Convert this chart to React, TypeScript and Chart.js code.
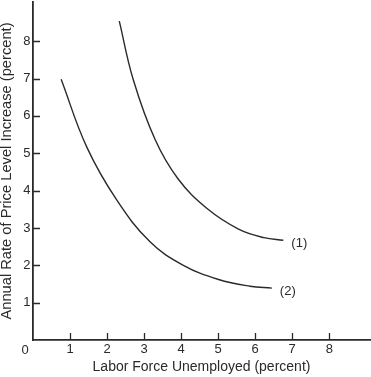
import React, { useEffect, useRef } from "react";
import { Chart, registerables } from "chart.js";

Chart.register(...registerables);

// Curve (1)
const curve1X = [2.33, 2.71, 3.3, 3.92, 4.7, 5.55, 6.24, 6.76];
const curve1Y = [8.54, 6.96, 5.36, 4.31, 3.52, 2.97, 2.74, 2.67];
// Curve (2)
const curve2X = [0.76, 1.45, 2.26, 3.16, 4.06, 5.01, 5.86, 6.45];
const curve2Y = [6.98, 5.17, 3.75, 2.63, 2.0, 1.62, 1.44, 1.39];

const curveLabels = ["(1)", "(2)"];
const xTickLabels = ["", "1", "2", "3", "4", "5", "6", "7", "8", ""];
const yTickLabels = ["", "1", "2", "3", "4", "5", "6", "7", "8", ""];
const xTitle = "Labor Force Unemployed (percent)";
const yTitle = "Annual Rate of Price Level Increase (percent)";
const originLabel = "0";

const FONT = "'Liberation Sans', Arial, Helvetica, sans-serif";
const INK = "#2a2a2a";

const toPoints = (xs: number[], ys: number[]) => xs.map((x, i) => ({ x, y: ys[i] }));

export default function App() {
  const ref = useRef<HTMLCanvasElement | null>(null);

  useEffect(() => {
    if (!ref.current) return;
    const shown = (v: number) => v >= 1 && v <= 8;

    const decorPlugin = {
      id: "decor",
      afterDraw(chart: any) {
        const ctx = chart.ctx;
        const xs = chart.scales.x;
        const ys = chart.scales.y;
        const area = chart.chartArea;
        ctx.save();
        // inward tick marks
        ctx.strokeStyle = INK;
        ctx.lineWidth = 1.3;
        ctx.beginPath();
        xs.ticks.forEach((t: any) => {
          if (!shown(t.value)) return;
          const px = Math.round(xs.getPixelForValue(t.value)) + 0.5;
          ctx.moveTo(px, area.bottom);
          ctx.lineTo(px, area.bottom - 7);
        });
        ys.ticks.forEach((t: any) => {
          if (!shown(t.value)) return;
          const py = Math.round(ys.getPixelForValue(t.value)) + 0.5;
          ctx.moveTo(area.left, py);
          ctx.lineTo(area.left + 7, py);
        });
        ctx.stroke();
        // curve labels
        ctx.fillStyle = INK;
        ctx.font = `13px ${FONT}`;
        ctx.textAlign = "left";
        ctx.textBaseline = "middle";
        chart.data.datasets.forEach((ds: any, i: number) => {
          const meta = chart.getDatasetMeta(i);
          const last = meta.data[meta.data.length - 1];
          ctx.fillText(curveLabels[i], last.x + 8, last.y + 3);
        });
        // origin label
        ctx.textAlign = "center";
        ctx.fillText(originLabel, xs.getPixelForValue(0) - 8, xs.top + 10);
        ctx.restore();
      },
    };

    const chart = new Chart(ref.current, {
      type: "scatter",
      data: {
        datasets: [
          {
            data: toPoints(curve1X, curve1Y),
            showLine: true,
            borderColor: INK,
            borderWidth: 1.4,
            pointRadius: 0,
            tension: 0.4,
          },
          {
            data: toPoints(curve2X, curve2Y),
            showLine: true,
            borderColor: INK,
            borderWidth: 1.4,
            pointRadius: 0,
            tension: 0.4,
          },
        ],
      },
      options: {
        responsive: false,
        animation: false,
        layout: { padding: { top: 2, right: 1, left: 0, bottom: 0 } },
        plugins: {
          legend: { display: false },
          tooltip: { enabled: false },
        },
        scales: {
          x: {
            type: "linear",
            min: 0,
            max: 9.1,
            afterFit: (s: any) => {
              s.height = 37;
              s.paddingLeft = 0;
              s.paddingRight = 0;
            },
            ticks: {
              stepSize: 1,
              includeBounds: false,
              autoSkip: false,
              maxRotation: 0,
              padding: 2,
              color: INK,
              font: { family: FONT, size: 13 },
              callback: (v: any) => xTickLabels[Math.round(v)] ?? "",
            },
            grid: { display: false, drawOnChartArea: false, drawTicks: false },
            border: { display: true, color: INK, width: 1.8 },
            title: {
              display: true,
              text: xTitle,
              color: INK,
              font: { family: FONT, size: 14 },
              padding: { top: 0, bottom: 1 },
            },
          },
          y: {
            type: "linear",
            min: 0,
            max: 9.05,
            afterFit: (s: any) => {
              s.width = 33;
              s.paddingTop = 0;
              s.paddingBottom = 0;
            },
            ticks: {
              stepSize: 1,
              includeBounds: false,
              autoSkip: false,
              padding: 2.5,
              color: INK,
              font: { family: FONT, size: 13 },
              callback: (v: any) => yTickLabels[Math.round(v)] ?? "",
            },
            grid: { display: false, drawOnChartArea: false, drawTicks: false },
            border: { display: true, color: INK, width: 1.8 },
            title: {
              display: true,
              text: yTitle,
              color: INK,
              font: { family: FONT, size: 14.7, lineHeight: 1 },
              padding: { top: 0, bottom: 0 },
            },
          },
        },
      },
      plugins: [decorPlugin],
    } as any);

    return () => chart.destroy();
  }, []);

  return (
    <div style={{ position: "fixed", left: 0, top: 0, width: 371, height: 377, background: "#fff" }}>
      <canvas ref={ref} width={371} height={377} />
    </div>
  );
}
